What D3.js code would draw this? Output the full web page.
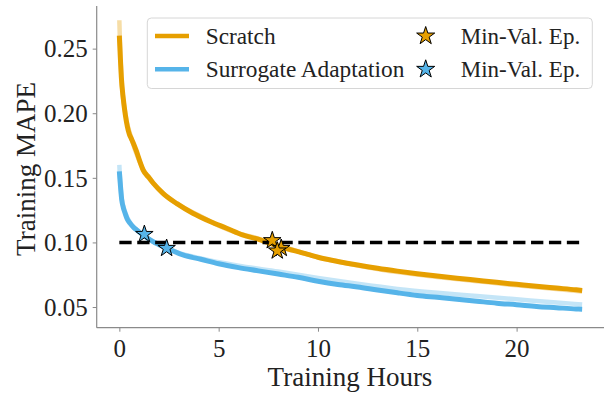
<!DOCTYPE html>
<html><head><meta charset="utf-8">
<script src="https://cdn.jsdelivr.net/npm/d3@7"></script>
<style>body{margin:0;background:#fff}svg{display:block}text{font-family:"Liberation Serif","Times New Roman",serif;fill:#222}</style>
</head><body>
<svg id="c" width="605" height="394"></svg>
<script>
// ---- data ----
const scratchT = [0,0.05,0.1,0.2,0.3,0.4,0.5,0.6,0.7,0.85,1.05,1.2,1.5,1.7,2.2,2.9,3.7,4.6,5.4,6.2,7.1,7.9,8.8,9.6,10,11,12,13,14,15,16,17,18,19,20,21,22,23,23.3];
const scratchV = [0.260,0.243,0.228,0.211,0.199,0.190,0.184,0.1805,0.177,0.171,0.162,0.156,0.150,0.146,0.138,0.130,0.1226,0.116,0.111,0.1058,0.102,0.0975,0.0937,0.0903,0.0885,0.0853,0.0825,0.0800,0.0778,0.0758,0.0740,0.0723,0.0707,0.0691,0.0676,0.0661,0.0647,0.0633,0.0628];
const scratchLightT = [0,0.03,0.1,0.3,0.6,1,2,3,4,5,6,7,8,10,12,14,16,18,20,22,23.3];
const scratchLightV = [0.272,0.255,0.229,0.200,0.181,0.163,0.141,0.129,0.121,0.113,0.107,0.103,0.098,0.0885,0.0822,0.0770,0.0733,0.0700,0.0668,0.0640,0.0620];
const surrT = [0,0.05,0.12,0.2,0.29,0.4,0.54,0.7,0.87,1.2,1.7,2.4,3.2,4.1,5,6,7,8,9,10,11,12,13,14,15,16,17,18,19,20,21,22,23,23.3];
const surrV = [0.155,0.145,0.133,0.127,0.1226,0.118,0.1149,0.112,0.1097,0.1058,0.1006,0.0955,0.0903,0.087,0.0835,0.0805,0.078,0.0755,0.073,0.070,0.0675,0.0655,0.0632,0.0610,0.0590,0.0575,0.0560,0.0545,0.0530,0.0518,0.0505,0.0495,0.0485,0.0483];
const surrLightT = [0,0.03,0.12,0.3,0.6,1,2,3,4,6,8,10,12,14,16,18,20,22,23.3];
const surrLightV = [0.160,0.150,0.134,0.123,0.114,0.108,0.098,0.092,0.088,0.082,0.0775,0.0725,0.0680,0.0640,0.0610,0.0585,0.0560,0.0535,0.0520];
const scratchStarsT = [7.7,8.15,7.95];
const scratchStarsV = [0.1015,0.0955,0.0935];
const surrStarsT = [1.26,2.38];
const surrStarsV = [0.1063,0.0955];
const threshold = 0.10;
const xTicks = [0,5,10,15,20];
const yTicks = [0.05,0.10,0.15,0.20,0.25];
const seriesNames = ["Scratch","Surrogate Adaptation"];
const starLabel = "Min-Val. Ep.";
const colors = ["#E69F00","#56B4E9"];

// ---- layout ----
const svg = d3.select("#c");
const x = d3.scaleLinear().domain([-1.14,24.4]).range([96.7,604]);
const y = d3.scaleLinear().domain([0.034,0.283]).range([327.7,6]);
const axisCol = "#8a8a8a";

function starPath(R){
  const r = R*0.382, pts=[];
  for(let i=0;i<10;i++){
    const a = -Math.PI/2 + i*Math.PI/5, rr = i%2?r:R;
    pts.push([rr*Math.cos(a), rr*Math.sin(a)]);
  }
  return "M"+pts.map(p=>p[0].toFixed(2)+","+p[1].toFixed(2)).join("L")+"Z";
}

// axes
const xa = svg.append("g").attr("transform",`translate(0,${y.range()[0]})`)
  .call(d3.axisBottom(x).tickValues(xTicks).tickFormat(d3.format("d")).tickSize(4).tickPadding(6));
const ya = svg.append("g").attr("transform",`translate(${x.range()[0]},0)`)
  .call(d3.axisLeft(y).tickValues(yTicks).tickFormat(d3.format(".2f")).tickSize(4).tickPadding(5));
[xa,ya].forEach(g=>{
  g.attr("font-family",null);
  g.selectAll("path.domain").attr("stroke",axisCol).attr("stroke-width",1.2);
  g.selectAll(".tick line").attr("stroke",axisCol).attr("stroke-width",1);
  g.selectAll(".tick text").attr("font-size",25).attr("fill","#222");
});
ya.selectAll(".tick text").attr("dy","0.33em");
xa.selectAll(".tick text").attr("dy","0.78em");
xa.select("path.domain").attr("d",`M${x.range()[0]},0H${x.range()[1]}`);
ya.select("path.domain").attr("d",`M0,${y.range()[0]}V${y.range()[1]}`);

svg.append("text").attr("x",350).attr("y",386).attr("text-anchor","middle")
  .attr("font-size",27).text("Training Hours");
svg.append("text").attr("transform","translate(35,169) rotate(-90)").attr("text-anchor","middle")
  .attr("font-size",27).text("Training MAPE");

// lines
const line = d3.line().x(d=>x(d[0])).y(d=>y(d[1])).curve(d3.curveMonotoneX);
const zip=(a,b)=>a.map((t,i)=>[t,b[i]]);
const plot = svg.append("g");
plot.append("path").datum(zip(scratchLightT,scratchLightV)).attr("d",line)
  .attr("fill","none").attr("stroke",colors[0]).attr("stroke-opacity",0.35).attr("stroke-width",4.5);
plot.append("path").datum(zip(surrLightT,surrLightV)).attr("d",line)
  .attr("fill","none").attr("stroke",colors[1]).attr("stroke-opacity",0.35).attr("stroke-width",4.5);
plot.append("path").datum(zip(scratchT,scratchV)).attr("d",line)
  .attr("fill","none").attr("stroke",colors[0]).attr("stroke-width",5).attr("stroke-linejoin","round");
plot.append("path").datum(zip(surrT,surrV)).attr("d",line)
  .attr("fill","none").attr("stroke",colors[1]).attr("stroke-width",5).attr("stroke-linejoin","round");

// threshold dashed line
plot.append("line").attr("x1",x(0)).attr("x2",x(23.3)).attr("y1",y(threshold)).attr("y2",y(threshold))
  .attr("stroke","#000").attr("stroke-width",3.5).attr("stroke-dasharray","12.3,5.6");

// stars
const sp = starPath(9.2);
plot.selectAll(".ss").data(zip(scratchStarsT,scratchStarsV)).join("path")
  .attr("d",sp).attr("transform",d=>`translate(${x(d[0])},${y(d[1])})`)
  .attr("fill",colors[0]).attr("stroke","#000").attr("stroke-width",1);
plot.selectAll(".bs").data(zip(surrStarsT,surrStarsV)).join("path")
  .attr("d",sp).attr("transform",d=>`translate(${x(d[0])},${y(d[1])})`)
  .attr("fill",colors[1]).attr("stroke","#000").attr("stroke-width",1);

// legend
const lg = svg.append("g");
lg.append("rect").attr("x",147.3).attr("y",18).attr("width",445).attr("height",70.5).attr("rx",4)
  .attr("fill","#fff").attr("fill-opacity",0.8).attr("stroke","#d6d6d6").attr("stroke-width",1);
const rowY = [36,69.3];
seriesNames.forEach((n,i)=>{
  lg.append("line").attr("x1",155).attr("x2",189).attr("y1",rowY[i]).attr("y2",rowY[i])
    .attr("stroke",colors[i]).attr("stroke-width",4.5);
  lg.append("text").attr("x",205.7).attr("y",rowY[i]+7.5).attr("font-size",23.3).text(n);
  lg.append("path").attr("d",starPath(9.5)).attr("transform",`translate(425.7,${rowY[i]})`)
    .attr("fill",colors[i]).attr("stroke","#000").attr("stroke-width",1);
  lg.append("text").attr("x",460.7).attr("y",rowY[i]+7.5).attr("font-size",23).text(starLabel);
});
</script>
</body></html>
